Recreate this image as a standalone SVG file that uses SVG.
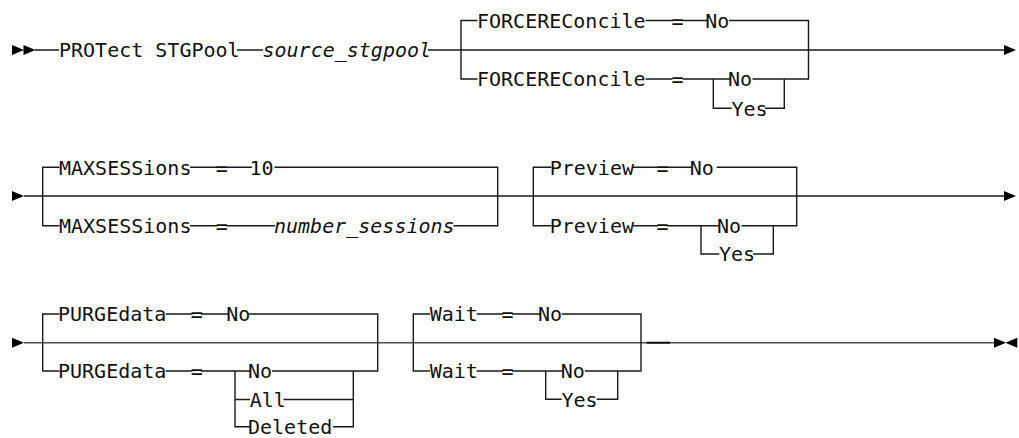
<svg xmlns="http://www.w3.org/2000/svg" xmlns:xlink="http://www.w3.org/1999/xlink" width="1019" height="438" viewBox="0 0 1019 438">
<style>
.ln{stroke:#1a1a1a;stroke-width:1.4;fill:none}
.ln3{stroke:#4d4d4d;stroke-width:1.4;fill:none}
.t{font-family:"DejaVu Sans Mono","Liberation Mono",monospace;font-size:20px;fill:#111}
.v{font-style:italic}
.eq{text-anchor:middle}
.ah{fill:#000}
</style>
<defs>
<path id="arR" d="M0,-5 L12,0 L0,5 Z"/>
<path id="arL" d="M0,-5 L-12,0 L0,5 Z"/>
</defs>
<rect width="1019" height="438" fill="#fff"/>

<g id="connectors">
<!-- Row 1 -->
<use href="#arR" class="ah" x="12" y="50"/>
<use href="#arR" class="ah" x="23.5" y="50"/>
<path class="ln" d="M35,50 H59 M237,50 H263 M428,50 H1004"/>
<path class="ln" d="M477.5,20.5 H461 V79 H477.5"/>
<path class="ln" d="M645.6,20.5 H673 M682,20.5 H707 M729,20.5 H808.5 V79 H752.5"/>
<path class="ln" d="M645.6,79 H672.5 M682.5,79 H730 M713.3,79 V108.3 H731.7 M765,108.3 H784.3 V79"/>
<use href="#arR" class="ah" x="1004" y="50"/>

<!-- Row 2 -->
<use href="#arR" class="ah" x="12" y="196"/>
<path class="ln" d="M24,196 H1004"/>
<path class="ln" d="M59.5,167.3 H42.7 V225.8 H59.5"/>
<path class="ln" d="M190,167.3 H217 M226.5,167.3 H252 M274.5,167.3 H497.7 V225.8 H453.5"/>
<path class="ln" d="M190,225.8 H217 M226.5,225.8 H275"/>
<path class="ln" d="M551.5,167.3 H533.3 V225.8 H551.5"/>
<path class="ln" d="M633,167.3 H658 M667,167.3 H691.5 M716.7,167.3 H796.7 V225.8 H741.5"/>
<path class="ln" d="M633,225.8 H658 M667,225.8 H719 M701,225.8 V254 H719.3 M753,254 H773.3 V225.8"/>
<use href="#arR" class="ah" x="1004" y="196"/>

<!-- Row 3 -->
<use href="#arR" class="ah" x="12" y="342.7"/>
<path class="ln3" d="M24,342.7 H994"/>
<path class="ln" d="M646.7,342.7 H670" style="stroke-width:2;stroke:#111"/>
<path class="ln" d="M59.5,314 H42.7 V371 H59.5"/>
<path class="ln" d="M165.7,314 H192.5 M201,314 H228 M249,314 H377.7 V371 H272"/>
<path class="ln" d="M165.7,371 H192.5 M201,371 H250 M235,371 V426.7 H250 M235,399.5 H250 M283.5,399.5 H353.3 M333,426.7 H353.3 V371"/>
<path class="ln" d="M430,314 H413.3 V371 H430"/>
<path class="ln" d="M476.7,314 H503 M512,314 H540 M561.7,314 H641 V371 H585"/>
<path class="ln" d="M476.7,371 H503 M512,371 H562.7 M545.7,371 V399.3 H561.7 M596.7,399.3 H617.7 V371"/>
<use href="#arR" class="ah" x="994" y="342.7"/>
<use href="#arL" class="ah" x="1017.3" y="342.7"/>
</g>

<g id="node-protect-stgpool"><text class="t" x="59" y="57.3">PROTect STGPool</text></g>
<g id="node-source-stgpool"><text class="t v" x="262.5" y="57.3">source_stgpool</text></g>

<g id="node-forcereconcile-default">
<text class="t" x="477" y="27.8">FORCEREConcile</text>
<text class="t eq" x="677.5" y="27.8">=</text>
<text class="t" x="705.3" y="27.8">No</text>
</g>
<g id="node-forcereconcile">
<text class="t" x="477" y="86.3">FORCEREConcile</text>
<text class="t eq" x="677.5" y="86.3">=</text>
<text class="t" x="728" y="86.3">No</text>
<text class="t" x="731.4" y="115.6">Yes</text>
</g>

<g id="node-maxsessions-default">
<text class="t" x="59" y="174.6">MAXSESSions</text>
<text class="t eq" x="221.7" y="174.6">=</text>
<text class="t" x="249.5" y="174.6">10</text>
</g>
<g id="node-maxsessions">
<text class="t" x="59" y="233.1">MAXSESSions</text>
<text class="t eq" x="221.7" y="233.1">=</text>
<text class="t v" x="274" y="233.1">number_sessions</text>
</g>

<g id="node-preview-default">
<text class="t" x="549.7" y="174.6">Preview</text>
<text class="t eq" x="662.5" y="174.6">=</text>
<text class="t" x="689.7" y="174.6">No</text>
</g>
<g id="node-preview">
<text class="t" x="549.7" y="233.1">Preview</text>
<text class="t eq" x="662.5" y="233.1">=</text>
<text class="t" x="717" y="233.1">No</text>
<text class="t" x="719" y="261.3">Yes</text>
</g>

<g id="node-purgedata-default">
<text class="t" x="58" y="321.3">PURGEdata</text>
<text class="t eq" x="196.7" y="321.3">=</text>
<text class="t" x="226.3" y="321.3">No</text>
</g>
<g id="node-purgedata">
<text class="t" x="58" y="378.3">PURGEdata</text>
<text class="t eq" x="196.7" y="378.3">=</text>
<text class="t" x="248" y="378.3">No</text>
<text class="t" x="249.7" y="406.8">All</text>
<text class="t" x="248" y="434">Deleted</text>
</g>

<g id="node-wait-default">
<text class="t" x="429.7" y="321.3">Wait</text>
<text class="t eq" x="507.5" y="321.3">=</text>
<text class="t" x="538" y="321.3">No</text>
</g>
<g id="node-wait">
<text class="t" x="429.7" y="378.3">Wait</text>
<text class="t eq" x="507.5" y="378.3">=</text>
<text class="t" x="560.7" y="378.3">No</text>
<text class="t" x="561.4" y="406.6">Yes</text>
</g>
</svg>
